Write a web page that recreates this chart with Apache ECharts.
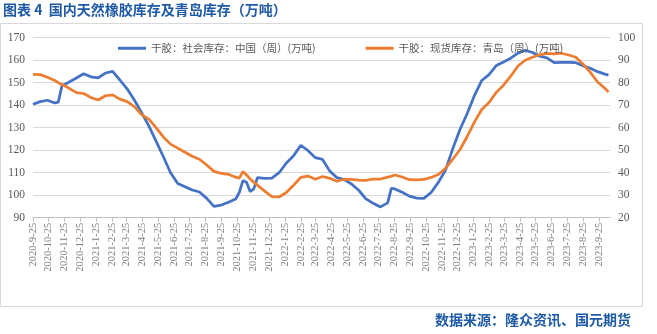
<!DOCTYPE html>
<html>
<head>
<meta charset="utf-8">
<script src="https://cdn.jsdelivr.net/npm/echarts@6/dist/echarts.min.js"></script>
<style>
html,body{margin:0;padding:0;background:#fff;}
#chart{width:657px;height:334px;}
</style>
</head>
<body>
<div id="chart"></div>
<script>
const dates = [
'2020-09-25','2020-10-09','2020-10-23','2020-11-06','2020-11-13','2020-11-20','2020-12-04','2020-12-18',
'2021-01-01','2021-01-15','2021-01-29','2021-02-12','2021-02-26','2021-03-12','2021-03-26','2021-04-09',
'2021-04-23','2021-05-07','2021-05-21','2021-06-04','2021-06-18','2021-07-02','2021-07-16','2021-07-30',
'2021-08-13','2021-08-27','2021-09-10','2021-09-24','2021-10-08','2021-10-22','2021-10-29','2021-11-05',
'2021-11-12','2021-11-19','2021-11-26','2021-12-03','2021-12-17','2021-12-31','2022-01-14','2022-01-28',
'2022-02-11','2022-02-25','2022-03-11','2022-03-25','2022-04-08','2022-04-22','2022-05-06','2022-05-20',
'2022-06-03','2022-06-17','2022-07-01','2022-07-15','2022-07-29','2022-08-12','2022-08-19','2022-08-26',
'2022-09-09','2022-09-23','2022-10-07','2022-10-21','2022-11-04','2022-11-18','2022-12-02','2022-12-16',
'2022-12-30','2023-01-13','2023-01-27','2023-02-10','2023-02-24','2023-03-10','2023-03-24','2023-04-07',
'2023-04-21','2023-05-05','2023-05-19','2023-06-02','2023-06-16','2023-06-30','2023-07-14','2023-07-28',
'2023-08-11','2023-08-25','2023-09-08','2023-09-22','2023-10-06','2023-10-13'
];
const socialStock = [
140.4,141.6,142.2,141.0,141.4,148.6,150.3,152.1,
154.0,152.6,152.1,154.3,155.0,151.2,147.3,142.3,
136.7,130.8,124.0,117.2,110.0,105.2,103.8,102.3,
101.4,98.6,95.0,95.6,96.9,98.3,101.2,106.5,
105.8,101.6,102.8,107.8,107.5,107.6,110.0,114.3,
117.5,122.2,119.8,116.7,115.9,110.7,107.8,106.9,
105.0,102.2,98.4,96.4,94.8,96.6,103.0,102.8,
101.3,99.6,98.7,98.6,101.2,105.7,111.2,120.7,
129.3,136.4,144.4,151.0,153.6,157.6,159.2,160.9,
163.1,164.4,163.4,161.8,161.0,158.9,159.0,159.0,
158.9,157.5,156.4,154.9,153.8,153.4
];
const qingdaoStock = [
83.7,83.6,82.4,81.0,80.0,79.2,77.5,75.6,
75.2,73.4,72.3,74.2,74.6,72.7,71.6,69.4,
65.8,63.8,60.0,55.9,52.7,50.9,49.1,47.3,
46.0,43.4,40.6,39.7,39.3,38.0,37.6,40.5,
39.0,37.2,35.8,34.5,31.8,29.4,29.2,31.2,
34.4,37.9,38.5,37.1,38.3,37.5,36.2,37.1,
37.0,36.7,36.6,37.2,37.2,38.0,38.4,39.0,
38.1,36.9,36.8,37.0,37.9,39.2,42.0,46.0,
50.3,56.2,62.6,68.1,71.2,75.7,78.9,82.9,
87.4,90.0,91.3,92.4,93.0,92.8,93.1,92.3,
91.3,88.2,84.6,80.3,77.5,75.9
];
const tickLabels = [
'2020-9-25','2020-10-25','2020-11-25','2020-12-25','2021-1-25','2021-2-25','2021-3-25','2021-4-25',
'2021-5-25','2021-6-25','2021-7-25','2021-8-25','2021-9-25','2021-10-25','2021-11-25','2021-12-25',
'2022-1-25','2022-2-25','2022-3-25','2022-4-25','2022-5-25','2022-6-25','2022-7-25','2022-8-25',
'2022-9-25','2022-10-25','2022-11-25','2022-12-25','2023-1-25','2023-2-25','2023-3-25','2023-4-25',
'2023-5-25','2023-6-25','2023-7-25','2023-8-25','2023-9-25'
];
const seriesNames = ['干胶：社会库存：中国（周）(万吨)','干胶：现货库存：青岛（周）(万吨)'];
const titleText = '图表 4  国内天然橡胶库存及青岛库存（万吨）';
const sourceText = '数据来源：隆众资讯、国元期货';

function ts(s){ const p = s.split('-').map(Number); return Date.UTC(p[0], p[1]-1, p[2]); }
const tickTs = tickLabels.map(ts);
const labelMap = {}; tickTs.forEach((t,i)=>{ labelMap[t] = tickLabels[i]; });

const chart = echarts.init(document.getElementById('chart'), null, {renderer:'canvas'});
const gray = '#595959';
chart.setOption({
  animation:false,
  backgroundColor:'#fff',
  title:{ text:titleText, left:3, top:3, padding:0,
    textStyle:{ color:'#1f5aa6', fontSize:14, fontWeight:'bold', fontFamily:'Noto Sans CJK SC' } },
  graphic:[
    { type:'rect', shape:{ x:0.5, y:23.5, width:642, height:283 }, style:{ fill:'none', stroke:'#d9d9d9', lineWidth:1 }, silent:true },
    { type:'text', right:26, top:313, style:{ text:sourceText, fill:'#1f5aa6', font:'bold 14px "Noto Sans CJK SC"' } }
  ],
  legend:{ left:118, top:43, padding:0, itemGap:50, itemWidth:28, itemHeight:3,
    icon:'rect',
    textStyle:{ color:gray, fontSize:10.5, fontFamily:'Noto Sans CJK SC' },
    data:seriesNames },
  grid:{ left:33, right:47, top:37.7, bottom:116.3, containLabel:false },
  xAxis:{
    type:'value', min:ts('2020-09-25'), max:ts('2023-10-16'),
    axisLine:{ show:true, lineStyle:{ color:'#bfbfbf' } },
    axisTick:{ show:true, customValues:tickTs, length:4, lineStyle:{ color:'#bfbfbf' } },
    splitLine:{ show:false },
    axisLabel:{ customValues:tickTs, rotate:90, color:'#7f7f7f', fontSize:10.5, fontFamily:'Liberation Serif', margin:5,
      formatter:function(v){ return labelMap[v] || ''; } }
  },
  yAxis:[
    { type:'value', min:90, max:170, interval:10,
      axisLine:{ show:false }, axisTick:{ show:false },
      splitLine:{ lineStyle:{ color:'#d9d9d9' } },
      axisLabel:{ color:gray, fontSize:11.5, fontFamily:'Liberation Serif', margin:8 } },
    { type:'value', min:20, max:100, interval:10,
      axisLine:{ show:false }, axisTick:{ show:false },
      splitLine:{ show:false },
      axisLabel:{ color:gray, fontSize:11.5, fontFamily:'Liberation Serif', margin:8 } }
  ],
  series:[
    { name:seriesNames[0], type:'line', yAxisIndex:0, showSymbol:false, symbol:'none',
      data:dates.map((d,i)=>[ts(d), socialStock[i]]),
      itemStyle:{ color:'#4472c4' }, lineStyle:{ color:'#4472c4', width:2.75 } },
    { name:seriesNames[1], type:'line', yAxisIndex:1, showSymbol:false, symbol:'none',
      data:dates.map((d,i)=>[ts(d), qingdaoStock[i]]),
      itemStyle:{ color:'#ed7d31' }, lineStyle:{ color:'#ed7d31', width:2.75 } }
  ]
});
</script>
</body>
</html>
